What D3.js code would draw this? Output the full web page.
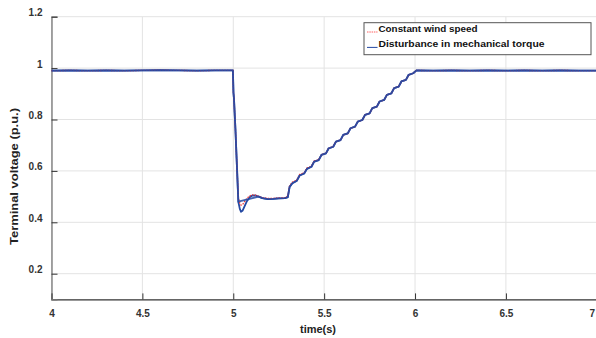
<!DOCTYPE html>
<html>
<head>
<meta charset="utf-8">
<script src="https://cdn.jsdelivr.net/npm/d3@7"></script>
<style>
  body { margin: 0; background: #fff; }
  text { font-family: Arial, "Liberation Sans", sans-serif; font-weight: bold; }
</style>
</head>
<body>
<div id="chart"></div>
<script>
// time samples (s)
const timeValues = [
  4.00, 4.10, 4.20, 4.30, 4.40, 4.50, 4.60, 4.70, 4.80, 4.90, 4.998,
  5.001, 5.004, 5.012, 5.020, 5.028, 5.036, 5.043, 5.052, 5.062, 5.075, 5.090,
  5.105, 5.120, 5.140, 5.160, 5.190, 5.220, 5.250, 5.285, 5.300,
  5.310, 5.325, 5.350, 5.365, 5.390, 5.405, 5.430, 5.445, 5.470, 5.485,
  5.510, 5.525, 5.550, 5.565, 5.590, 5.605, 5.630, 5.645, 5.670, 5.685,
  5.710, 5.725, 5.750, 5.765, 5.790, 5.805, 5.830, 5.845, 5.870, 5.885,
  5.910, 5.925, 5.950, 5.965, 5.990, 6.008,
  6.10, 6.20, 6.30, 6.40, 6.50, 6.60, 6.70, 6.80, 6.90, 7.00
];

// Disturbance in mechanical torque (blue)
const torqueValues = [
  0.990, 0.991, 0.990, 0.991, 0.990, 0.991, 0.992, 0.991, 0.990, 0.991, 0.991,
  0.905, 0.880, 0.760, 0.620, 0.480, 0.452, 0.441, 0.446, 0.462, 0.482, 0.497,
  0.504, 0.505, 0.500, 0.494, 0.490, 0.491, 0.493, 0.494, 0.498,
  0.538, 0.552, 0.562, 0.582, 0.590, 0.608, 0.616, 0.636, 0.642, 0.662,
  0.668, 0.688, 0.694, 0.714, 0.720, 0.740, 0.746, 0.766, 0.772, 0.792,
  0.798, 0.818, 0.824, 0.844, 0.850, 0.870, 0.876, 0.896, 0.902, 0.922,
  0.928, 0.948, 0.954, 0.974, 0.980, 0.991,
  0.990, 0.991, 0.990, 0.991, 0.990, 0.991, 0.990, 0.991, 0.990, 0.990
];

// Constant wind speed (red, dotted)
const windValues = [
  0.990, 0.991, 0.990, 0.991, 0.990, 0.991, 0.992, 0.991, 0.990, 0.991, 0.991,
  0.905, 0.880, 0.760, 0.620, 0.495, 0.475, 0.467, 0.470, 0.480, 0.493, 0.502,
  0.507, 0.506, 0.501, 0.496, 0.493, 0.493, 0.495, 0.496, 0.502,
  0.542, 0.556, 0.565, 0.586, 0.593, 0.611, 0.618, 0.638, 0.644, 0.663,
  0.669, 0.689, 0.695, 0.714, 0.720, 0.740, 0.746, 0.766, 0.772, 0.792,
  0.798, 0.818, 0.824, 0.844, 0.850, 0.870, 0.876, 0.896, 0.902, 0.922,
  0.928, 0.948, 0.954, 0.974, 0.980, 0.991,
  0.990, 0.991, 0.990, 0.991, 0.990, 0.991, 0.990, 0.991, 0.990, 0.990
];

const xTicks = [4, 4.5, 5, 5.5, 6, 6.5, 7];
const yTicks = [0.2, 0.4, 0.6, 0.8, 1, 1.2];
const seriesNames = ["Constant wind speed", "Disturbance in mechanical torque"];

const width = 596, height = 338;
const margin = { top: 16.7, right: -0.8, bottom: 38.6, left: 51.5 };

const svg = d3.select("#chart")
  .append("svg")
  .attr("width", width)
  .attr("height", height);

const x = d3.scaleLinear()
  .domain([4, 7])
  .range([margin.left, width - margin.right]);

const y = d3.scaleLinear()
  .domain([0.1, 1.2])
  .range([height - margin.bottom, margin.top]);

// grid
svg.append("g")
  .selectAll("line")
  .data(xTicks)
  .enter()
  .append("line")
  .attr("x1", d => x(d)).attr("x2", d => x(d))
  .attr("y1", y(0.1)).attr("y2", y(1.2))
  .attr("stroke", "#e3e3e3")
  .attr("stroke-width", 1);

svg.append("g")
  .selectAll("line")
  .data(yTicks)
  .enter()
  .append("line")
  .attr("x1", x(4)).attr("x2", x(7))
  .attr("y1", d => y(d)).attr("y2", d => y(d))
  .attr("stroke", "#e3e3e3")
  .attr("stroke-width", 1);

// axes (ticks pointing inward)
const xAxis = svg.append("g")
  .attr("transform", `translate(0,${y(0.1)})`)
  .call(d3.axisBottom(x).tickValues(xTicks).tickSize(-6).tickPadding(11)
    .tickFormat(d3.format("")));
xAxis.select(".domain").attr("stroke", "#333").attr("stroke-width", 1.3);
xAxis.selectAll(".tick line").attr("stroke", "#333");
xAxis.selectAll("text")
  .style("font-size", "10px")
  .attr("fill", "#333")
  .attr("dx", d => d === 7 ? "-5px" : null);

const yAxis = svg.append("g")
  .attr("transform", `translate(${x(4)},0)`)
  .call(d3.axisLeft(y).tickValues(yTicks).tickSize(-6).tickPadding(9)
    .tickFormat(d3.format("")));
yAxis.select(".domain").attr("stroke", "#777").attr("stroke-width", 1.3);
yAxis.selectAll(".tick line").attr("stroke", "#333");
yAxis.selectAll("text")
  .style("font-size", "10px")
  .attr("fill", "#333")
  .attr("dy", "-0.1em");

// lines
const windData = timeValues.map((t, i) => ({ t: t, v: windValues[i] }));
const torqueData = timeValues.map((t, i) => ({ t: t, v: torqueValues[i] }));

const line = d3.line()
  .x(d => x(d.t))
  .y(d => y(d.v));

svg.append("path")
  .datum(torqueData)
  .attr("fill", "none")
  .attr("stroke", "#2449a3")
  .attr("stroke-width", 1.8)
  .attr("stroke-linejoin", "round")
  .attr("d", line);

svg.append("path")
  .datum(windData)
  .attr("fill", "none")
  .attr("stroke", "#f03a3a")
  .attr("stroke-width", 1.3)
  .attr("stroke-dasharray", "1.5,1.2")
  .attr("d", line);

// blue on top outside the dip so red shows only where the curves split
svg.append("path")
  .datum(torqueData.filter(d => d.t < 5.03 || d.t > 5.12))
  .attr("fill", "none")
  .attr("stroke", "#2449a3")
  .attr("stroke-width", 1.8)
  .attr("stroke-linejoin", "round")
  .attr("opacity", 0.85)
  .attr("d", line);

// axis titles
svg.append("text")
  .attr("x", 318)
  .attr("y", 333)
  .attr("text-anchor", "middle")
  .style("font-size", "11px")
  .attr("fill", "#222")
  .text("time(s)");

svg.append("text")
  .attr("transform", "translate(18,176.5) rotate(-90)")
  .attr("text-anchor", "middle")
  .style("font-size", "11px")
  .attr("fill", "#222")
  .attr("textLength", 137)
  .attr("lengthAdjust", "spacingAndGlyphs")
  .text("Terminal voltage (p.u.)");

// legend
const legend = svg.append("g").attr("transform", "translate(364,22.7)");
legend.append("rect")
  .attr("width", 227)
  .attr("height", 32)
  .attr("fill", "#fff")
  .attr("stroke", "#555")
  .attr("stroke-width", 1);

const legendStyles = [
  { color: "#ff6060", dash: "1.5,0.8", len: 99 },
  { color: "#2449a3", dash: null, len: 166 }
];

seriesNames.forEach((name, i) => {
  const row = legend.append("g").attr("transform", `translate(0,${5.8 + i * 15.4})`);
  row.append("line")
    .attr("x1", 3).attr("x2", 13.5)
    .attr("y1", 3.5).attr("y2", 3.5)
    .attr("stroke", legendStyles[i].color)
    .attr("stroke-width", 1)
    .attr("stroke-dasharray", legendStyles[i].dash);
  row.append("text")
    .attr("x", 14.5)
    .attr("y", 0)
    .attr("dy", "0.35em")
    .style("font-size", "9px")
    .attr("fill", "#111")
    .attr("textLength", legendStyles[i].len)
    .attr("lengthAdjust", "spacingAndGlyphs")
    .text(name);
});
</script>
</body>
</html>
